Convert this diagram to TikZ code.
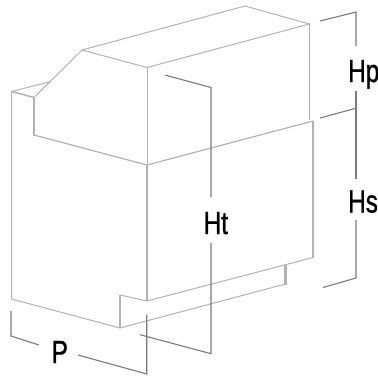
\documentclass[tikz,border=0pt]{standalone}
\usepackage{fontspec}
\setmainfont{Liberation Sans}
\newfontfamily\dimfont[FakeBold=1.2]{Liberation Sans}
\definecolor{edgegray}{gray}{0.7}
\definecolor{dimgray}{gray}{0.48}
\tikzset{
  edgeline/.style={draw=edgegray,line width=1pt,line join=miter},
  heavyline/.style={draw=edgegray,line width=2.4pt},
  dimline/.style={draw=dimgray,line width=1.1pt},
  dimlabel/.style={inner sep=0pt,text=black,font=\dimfont\fontsize{32}{32}\selectfont,anchor=base west}
}
\newcommand{\narrow}[1]{\scalebox{0.76}[1]{#1}}
\begin{document}
\begin{tikzpicture}[x=1pt,y=-1pt]
\useasboundingbox (0,0) rectangle (378,376);
% body outline
\draw[edgeline] (11.5,299) -- (11.5,91.5) -- (51,81.5);
\draw[edgeline] (11.5,299) -- (120,328) -- (285.5,284);
\draw[edgeline] (34,97.5) -- (82,50) -- (245,6) -- (309.5,24) -- (309.5,120);
\draw[edgeline] (82,50) -- (147,67.5) -- (309.5,24);
\draw[edgeline] (147,67.5) -- (147,165);
\draw[edgeline,line width=1.2pt] (34,135) -- (147,165) -- (313,121);
\draw[edgeline] (147,301) -- (313,257.5);
\draw[edgeline] (147,301) -- (120,295);
\draw[edgeline,line width=1.5pt] (11.5,91.5) -- (34,97.5);
\draw[heavyline] (34,97.5) -- (34,135.5);
\draw[heavyline] (147,165) -- (147,301);
\draw[heavyline] (313,120.5) -- (313,258);
\draw[heavyline,line width=1.6pt] (120,295) -- (120,328);
\draw[heavyline] (285.5,265) -- (285.5,284.5);
% dimensions
\draw[dimline] (320,21) -- (356,12) -- (356,46);
\draw[dimline] (356,91) -- (356,179);
\draw[dimline] (320,118) -- (355,108.5);
\draw[dimline] (356,220) -- (356,278) -- (323,287.5);
\draw[dimline] (165,75) -- (211,87.5) -- (211,197);
\draw[dimline] (211,243) -- (211,353.7) -- (140,334.7);
\draw[dimline] (11,311) -- (11,336) -- (39,345);
\draw[dimline] (78,355) -- (146.7,374) -- (146.7,314.5);
% labels
\node[dimlabel] (hp) at (348,82) {\narrow{Hp}};
\node[dimlabel] (hs) at (348,212.5) {\narrow{Hs}};
\node[dimlabel] (ht) at (203.5,234) {\narrow{Ht}};
\node[dimlabel] (p) at (51.5,363) {\narrow{P}};
\end{tikzpicture}
\end{document}
